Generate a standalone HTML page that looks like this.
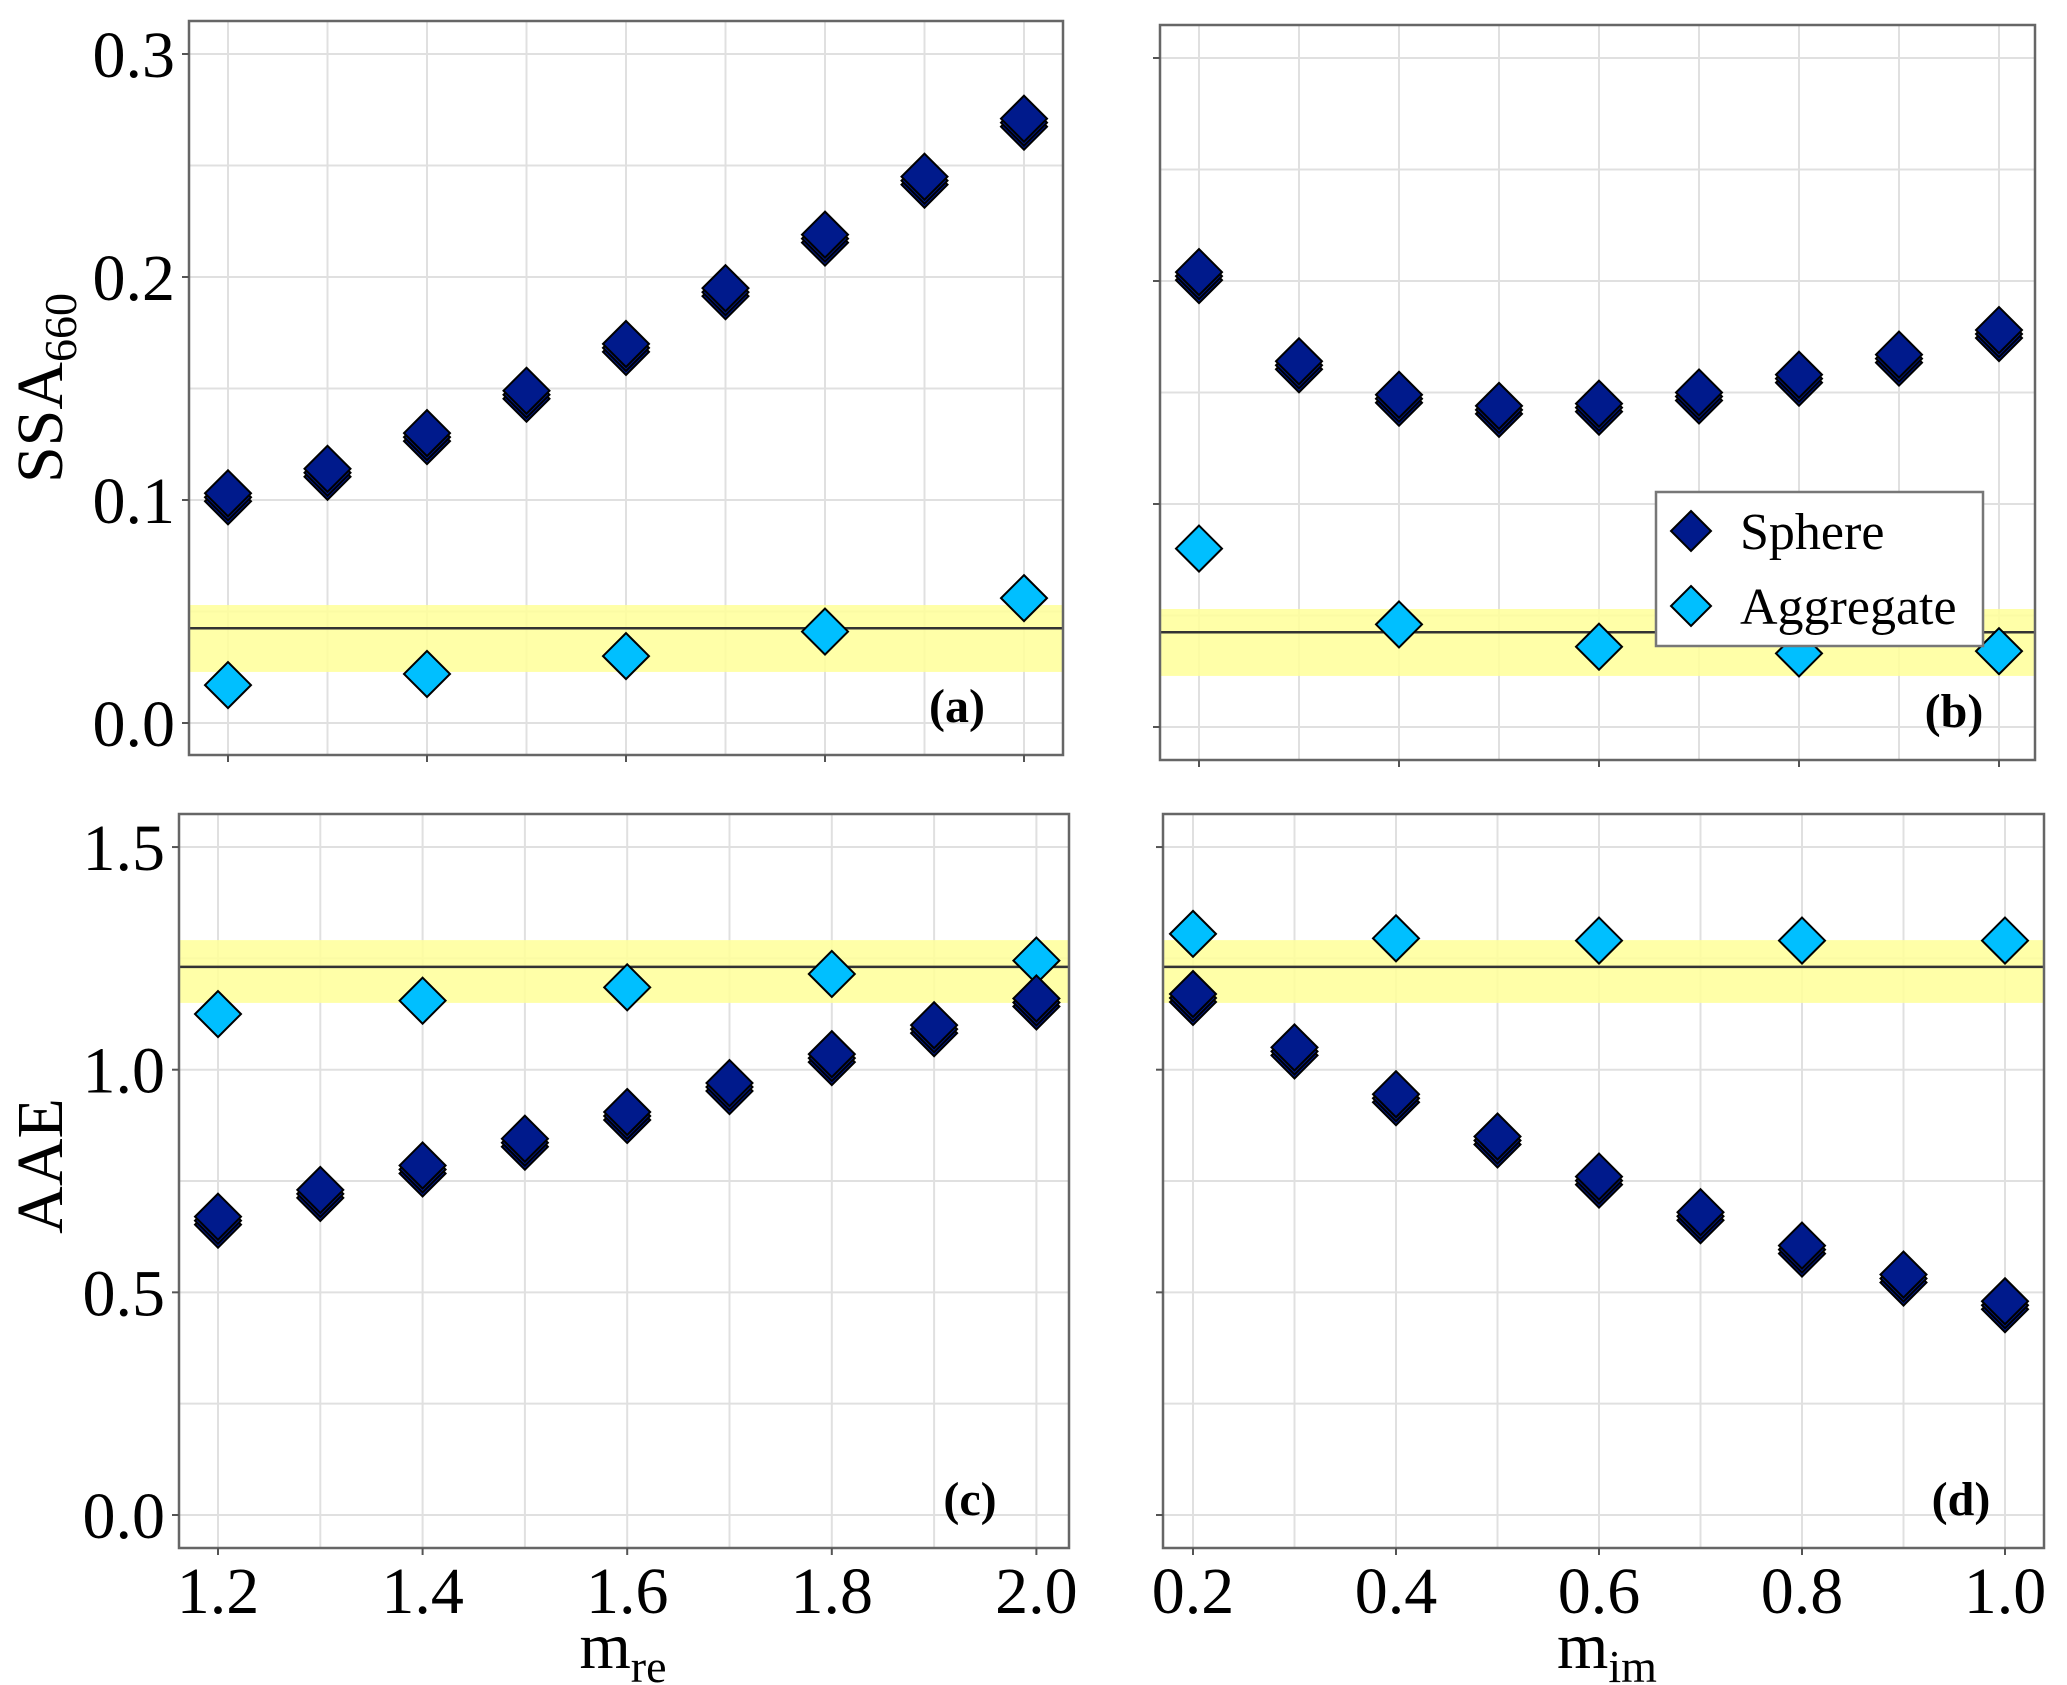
<!DOCTYPE html>
<html><head><meta charset="utf-8">
<style>
html,body{margin:0;padding:0;background:#fff;}
svg{display:block;font-family:"Liberation Serif",serif;}
</style></head>
<body>
<svg id="chart" width="2067" height="1685" viewBox="0 0 2067 1685" xmlns="http://www.w3.org/2000/svg"></svg>
<script>
// ---- data ----
const mreCats = [1.2,1.3,1.4,1.5,1.6,1.7,1.8,1.9,2.0];
const mimCats = [0.2,0.3,0.4,0.5,0.6,0.7,0.8,0.9,1.0];
const aggMre = [1.2,1.4,1.6,1.8,2.0];
const aggMim = [0.2,0.4,0.6,0.8,1.0];
const ssaSphereMre = [0.103,0.114,0.130,0.149,0.170,0.195,0.219,0.245,0.271];
const ssaAggMre = [0.017,0.022,0.030,0.041,0.056];
const ssaSphereMim = [0.204,0.164,0.149,0.144,0.145,0.150,0.158,0.167,0.178];
const ssaAggMim = [0.080,0.046,0.036,0.033,0.034];
const aaeSphereMre = [0.67,0.73,0.785,0.845,0.905,0.97,1.035,1.10,1.16];
const aaeAggMre = [1.125,1.155,1.185,1.215,1.245];
const aaeSphereMim = [1.17,1.05,0.945,0.85,0.76,0.68,0.605,0.54,0.48];
const aaeAggMim = [1.305,1.295,1.29,1.29,1.29];
const ssaObs = [0.0425,0.0229,0.0529];
const aaeObs = [1.231,1.150,1.291];
const xTicksMre = [1.2,1.4,1.6,1.8,2.0];
const xTicksMim = [0.2,0.4,0.6,0.8,1.0];
const yTicksSSA = [0.0,0.1,0.2,0.3];
const yTicksAAE = [0.0,0.5,1.0,1.5];

const NS="http://www.w3.org/2000/svg";
const svg=document.getElementById('chart');
function el(tag,attrs,parent){const e=document.createElementNS(NS,tag);for(const k in attrs)e.setAttribute(k,attrs[k]);(parent||svg).appendChild(e);return e;}

function panel(cfg){
  const g=el('g',{});
  
  
  const X=v=>cfg.x0+(v-cfg.xv0)*cfg.xs;
  const Y=v=>cfg.y0-v*cfg.ys;
  const {L,R,T,B}=cfg;
  el('rect',{x:L,y:T,width:R-L,height:B-T,fill:'#fff'},g);
  // grid
  for(let v=cfg.xmin;v<=cfg.xmax+1e-9;v+=cfg.xstep/2){
    const gl=el('line',{x1:X(v),x2:X(v),y1:T,y2:B,stroke:'#e0e0e0','stroke-width':2},g);
    
    
  }
  for(let v=cfg.ymin;v<=cfg.ymax+1e-9;v+=cfg.ystep/2){
    if(Y(v)<T||Y(v)>B)continue;
    const gl=el('line',{x1:L,x2:R,y1:Y(v),y2:Y(v),stroke:'#e0e0e0','stroke-width':2},g);
    
    
  }
  // observation band & line
  const band=el('rect',{x:L,y:Y(cfg.obs[2]),width:R-L,height:Y(cfg.obs[1])-Y(cfg.obs[2]),fill:'#ffff99',opacity:0.85},g);
  
  
  const ol=el('line',{x1:L,x2:R,y1:Y(cfg.obs[0]),y2:Y(cfg.obs[0]),stroke:'#333','stroke-width':2.5},g);
  
  
  // border
  el('rect',{x:L,y:T,width:R-L,height:B-T,fill:'none',stroke:'#666','stroke-width':2.5},g);
  // ticks
  cfg.xticks.forEach(v=>{
    el('line',{x1:X(v),x2:X(v),y1:B,y2:B+7,stroke:'#555','stroke-width':2},g);
    if(cfg.showX){
      const t=el('text',{x:X(v),y:1613,'text-anchor':'middle','font-size':66,fill:'#000'},g);
      t.textContent=v.toFixed(1);
      
      
    }
  });
  cfg.yticks.forEach(v=>{
    el('line',{x1:L-7,x2:L,y1:Y(v),y2:Y(v),stroke:'#555','stroke-width':2},g);
    if(cfg.showY){
      const t=el('text',{x:L-14,y:Y(v)+23,'text-anchor':'end','font-size':66,fill:'#000'},g);
      t.textContent=v.toFixed(1);
      
      
    }
  });
  function diamond(cx,cy,fill,name,stack){
    const h=23;
    if(stack){
      for(let k=2;k>=1;k--){
        const s=el('path',{d:`M${cx},${cy-h+k*4} L${cx+h},${cy+k*4} L${cx},${cy+h+k*4} L${cx-h},${cy+k*4} Z`,fill:fill,stroke:'#000','stroke-width':2},g);
        
        
      }
    }
    const d=el('path',{d:`M${cx},${cy-h} L${cx+h},${cy} L${cx},${cy+h} L${cx-h},${cy} Z`,fill:fill,stroke:'#000','stroke-width':2},g);
    
    
  }
  cfg.agg.forEach((v,i)=>diamond(X(cfg.aggX[i]),Y(v),'#00bfff','aggregate-point',false));
  cfg.sph.forEach((v,i)=>diamond(X(cfg.cats[i]),Y(v),'#001a8c','sphere-point',true));
  const lab=el('text',{x:cfg.labX,y:B-33,'text-anchor':'middle','font-size':48,'font-weight':'bold',fill:'#000'},g);
  lab.textContent=cfg.label;
  
  
  return g;
}

panel({name:'panel-a-ssa-mre',L:189,R:1063,T:21,B:755,x0:228,xv0:1.2,xs:995,y0:723,ys:2230,
  xmin:1.2,xmax:2.0,xstep:0.2,ymin:0,ymax:0.3,ystep:0.1,xticks:xTicksMre,yticks:yTicksSSA,showX:false,showY:true,
  obs:ssaObs,cats:mreCats,sph:ssaSphereMre,aggX:aggMre,agg:ssaAggMre,label:'(a)',labX:957});
panel({name:'panel-b-ssa-mim',L:1160,R:2035,T:25,B:760,x0:1199,xv0:0.2,xs:1000,y0:727,ys:2230,
  xmin:0.2,xmax:1.0,xstep:0.2,ymin:0,ymax:0.3,ystep:0.1,xticks:xTicksMim,yticks:yTicksSSA,showX:false,showY:false,
  obs:ssaObs,cats:mimCats,sph:ssaSphereMim,aggX:aggMim,agg:ssaAggMim,label:'(b)',labX:1954});
panel({name:'panel-c-aae-mre',L:179,R:1069,T:814,B:1548,x0:218,xv0:1.2,xs:1023,y0:1515,ys:445.3,
  xmin:1.2,xmax:2.0,xstep:0.2,ymin:0,ymax:1.5,ystep:0.5,xticks:xTicksMre,yticks:yTicksAAE,showX:true,showY:true,
  obs:aaeObs,cats:mreCats,sph:aaeSphereMre,aggX:aggMre,agg:aaeAggMre,label:'(c)',labX:970});
panel({name:'panel-d-aae-mim',L:1163,R:2044,T:814,B:1548,x0:1193,xv0:0.2,xs:1015,y0:1515,ys:445.3,
  xmin:0.2,xmax:1.0,xstep:0.2,ymin:0,ymax:1.5,ystep:0.5,xticks:xTicksMim,yticks:yTicksAAE,showX:true,showY:false,
  obs:aaeObs,cats:mimCats,sph:aaeSphereMim,aggX:aggMim,agg:aaeAggMim,label:'(d)',labX:1961});

// axis titles
function title(txt,sub,x,y,rot,name){
  const t=el('text',{x:x,y:y,'text-anchor':'middle','font-size':66,fill:'#000',transform:rot?`rotate(-90 ${x} ${y})`:''});
  
  
  const a=el('tspan',{},t);a.textContent=txt;
  const b=el('tspan',{'font-size':46,dy:14},t);b.textContent=sub;
}
title('m','re',623,1668,false,'x-axis-title-mre');
title('m','im',1607,1668,false,'x-axis-title-mim');
title('SSA','660',62,388,true,'y-axis-title-ssa');
title('AAE','',62,1166,true,'y-axis-title-aae');

// legend
const lg=el('g',{});


el('rect',{x:1656,y:492,width:327,height:154,fill:'#fff',stroke:'#777','stroke-width':2.5},lg);
[['Sphere','#001a8c',531],['Aggregate','#00bfff',606]].forEach(([n,c,cy])=>{
  const d=el('path',{d:`M1691,${cy-20} L1711,${cy} L1691,${cy+20} L1671,${cy} Z`,fill:c,stroke:'#000','stroke-width':2},lg);
  
  
  const t=el('text',{x:1740,y:cy+18,'font-size':52,fill:'#000'},lg);
  t.textContent=n;
  
  
});
</script>
</body></html>
